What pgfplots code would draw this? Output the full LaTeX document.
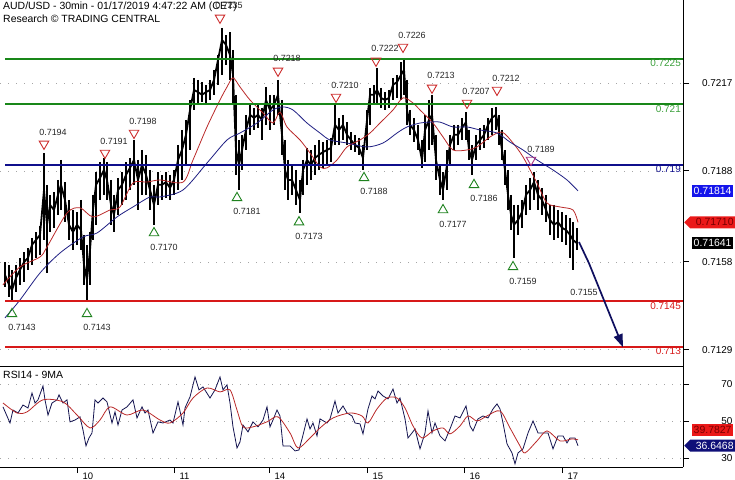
\documentclass[border=0pt]{standalone}
\usepackage{pgfplots}
\pgfplotsset{compat=1.18}
\usepackage{pgfplotstable}
\usepackage{fontspec}
\setmainfont{Liberation Sans}
\usetikzlibrary{shapes.symbols, arrows.meta}

\definecolor{tcgreen}{RGB}{25,135,25}
\definecolor{tcgreenlbl}{RGB}{60,160,60}
\definecolor{tcblue}{RGB}{15,15,140}
\definecolor{tcred}{RGB}{215,25,25}
\definecolor{maRed}{RGB}{185,40,40}
\definecolor{maBlue}{RGB}{30,30,130}
\definecolor{trired}{RGB}{205,45,45}
\definecolor{trigreen}{RGB}{30,130,30}
\definecolor{tripurple}{RGB}{170,50,130}
\definecolor{arrowblue}{RGB}{15,15,95}
\definecolor{rsinavy}{RGB}{20,20,80}
\definecolor{boxblue}{RGB}{20,20,235}
\definecolor{boxred}{RGB}{235,25,25}
\definecolor{boxredtxt}{RGB}{120,0,0}
\definecolor{boxnavy}{RGB}{15,15,120}

\pgfplotstableread{
x lo hi c
5 0.71497 0.71579 0.71537
9 0.71464 0.71570 0.71504
12 0.71447 0.71553 0.71487
16 0.71480 0.71570 0.71527
20 0.71504 0.71593 0.71553
24 0.71513 0.71612 0.71579
28 0.71553 0.71626 0.71593
32 0.71570 0.71659 0.71636
36 0.71593 0.71678 0.71652
40 0.71603 0.71698 0.71669
44 0.71652 0.71939 0.71817
47 0.71543 0.71834 0.71702
50 0.71678 0.71801 0.71768
54 0.71692 0.71810 0.71751
58 0.71735 0.71850 0.71801
61 0.71751 0.71916 0.71834
65 0.71711 0.71843 0.71784
69 0.71652 0.71784 0.71702
73 0.71619 0.71751 0.71678
77 0.71636 0.71744 0.71702
81 0.71619 0.71784 0.71685
84 0.71504 0.71669 0.71570
87 0.71447 0.71636 0.71520
90 0.71504 0.71678 0.71619
93 0.71652 0.71801 0.71751
96 0.71702 0.71876 0.71834
100 0.71784 0.71909 0.71857
104 0.71801 0.71923 0.71883
107 0.71784 0.71909 0.71850
111 0.71702 0.71850 0.71768
114 0.71678 0.71801 0.71735
118 0.71735 0.71857 0.71817
122 0.71768 0.71876 0.71834
126 0.71784 0.71909 0.71867
130 0.71817 0.71923 0.71890
134 0.71834 0.71982 0.71916
138 0.71751 0.71916 0.71850
142 0.71801 0.71949 0.71900
146 0.71801 0.71933 0.71867
150 0.71751 0.71883 0.71817
154 0.71702 0.71834 0.71768
158 0.71768 0.71876 0.71834
162 0.71784 0.71867 0.71834
166 0.71791 0.71876 0.71843
170 0.71784 0.71867 0.71824
174 0.71801 0.71883 0.71850
178 0.71817 0.71966 0.71916
182 0.71850 0.72015 0.71949
186 0.71900 0.72048 0.71999
190 0.71949 0.72114 0.72081
194 0.72081 0.72187 0.72147
198 0.72098 0.72180 0.72140
202 0.72107 0.72173 0.72131
206 0.72098 0.72164 0.72140
210 0.72114 0.72180 0.72147
214 0.72131 0.72213 0.72180
218 0.72164 0.72263 0.72246
222 0.72197 0.72352 0.72312
226 0.72230 0.72329 0.72296
230 0.72180 0.72338 0.72263
233 0.72098 0.72279 0.72197
236 0.71867 0.72131 0.71949
239 0.71817 0.71982 0.71900
242 0.71883 0.71999 0.71949
246 0.71949 0.72065 0.72015
250 0.71999 0.72098 0.72065
254 0.72015 0.72088 0.72055
258 0.72022 0.72098 0.72065
262 0.71982 0.72088 0.72048
266 0.72032 0.72157 0.72114
270 0.72015 0.72131 0.72081
274 0.72032 0.72131 0.72098
278 0.72065 0.72180 0.72131
282 0.71933 0.72114 0.71999
285 0.71817 0.71982 0.71883
288 0.71784 0.71916 0.71850
292 0.71801 0.71900 0.71850
296 0.71768 0.71883 0.71817
300 0.71741 0.71850 0.71784
303 0.71801 0.71916 0.71883
307 0.71834 0.71956 0.71916
311 0.71850 0.71949 0.71900
315 0.71867 0.71966 0.71923
319 0.71883 0.71982 0.71933
323 0.71890 0.71975 0.71942
327 0.71900 0.71982 0.71949
331 0.71909 0.71989 0.71956
335 0.71966 0.72098 0.72032
339 0.71966 0.72055 0.72015
343 0.71982 0.72065 0.72032
347 0.71966 0.72041 0.71999
351 0.71949 0.72008 0.71982
355 0.71942 0.71999 0.71966
359 0.71933 0.71989 0.71956
363 0.71883 0.71966 0.71923
367 0.71949 0.72081 0.72048
370 0.72032 0.72154 0.72131
374 0.72098 0.72164 0.72131
377 0.72098 0.72220 0.72147
381 0.72088 0.72154 0.72121
385 0.72081 0.72140 0.72114
389 0.72088 0.72147 0.72121
393 0.72114 0.72187 0.72164
397 0.72121 0.72197 0.72173
401 0.72114 0.72239 0.72197
404 0.72131 0.72253 0.72213
407 0.72032 0.72180 0.72081
410 0.71999 0.72081 0.72032
414 0.71975 0.72055 0.72015
418 0.71949 0.72032 0.71982
422 0.71890 0.71982 0.71916
425 0.71909 0.72065 0.72015
429 0.71949 0.72114 0.72048
432 0.71966 0.72131 0.72065
436 0.71850 0.71999 0.71916
440 0.71801 0.71900 0.71850
443 0.71784 0.71876 0.71817
447 0.71817 0.71949 0.71900
450 0.71900 0.71999 0.71966
454 0.71949 0.72032 0.71999
458 0.71966 0.72032 0.71999
462 0.71982 0.72055 0.72022
466 0.71982 0.72074 0.72041
469 0.71916 0.72015 0.71949
472 0.71867 0.71966 0.71916
476 0.71916 0.71999 0.71966
480 0.71949 0.72022 0.71982
484 0.71956 0.72032 0.71999
488 0.71982 0.72055 0.72032
492 0.71999 0.72088 0.72055
496 0.72015 0.72091 0.72065
499 0.71966 0.72065 0.72015
502 0.71916 0.72015 0.71949
505 0.71834 0.71949 0.71883
508 0.71751 0.71883 0.71801
511 0.71685 0.71801 0.71735
514 0.71593 0.71768 0.71702
518 0.71669 0.71768 0.71718
522 0.71692 0.71784 0.71744
526 0.71735 0.71834 0.71801
530 0.71751 0.71857 0.71817
534 0.71784 0.71876 0.71843
538 0.71751 0.71850 0.71801
542 0.71735 0.71824 0.71784
546 0.71711 0.71801 0.71751
550 0.71669 0.71768 0.71718
554 0.71652 0.71768 0.71702
558 0.71659 0.71751 0.71711
562 0.71645 0.71744 0.71692
566 0.71636 0.71735 0.71685
570 0.71593 0.71725 0.71669
573 0.71553 0.71711 0.71652
577 0.71619 0.71692 0.71641
}\pricetab

\pgfplotstableread{
x m
3 0.71504
20 0.71563
40 0.71596
47 0.71629
67 0.71741
80 0.71758
93 0.71728
110 0.71751
120 0.71761
133 0.71840
147 0.71843
160 0.71850
183 0.71843
193 0.71916
207 0.72025
220 0.72114
227 0.72157
233 0.72187
240 0.72157
250 0.72114
263 0.72071
273 0.72038
280 0.72074
287 0.72025
300 0.71982
310 0.71939
320 0.71893
327 0.71890
337 0.71916
347 0.71959
360 0.71982
370 0.72005
380 0.72038
393 0.72081
403 0.72121
413 0.72104
420 0.72081
433 0.72038
443 0.71992
453 0.71949
467 0.71949
477 0.71959
490 0.71992
502 0.72008
513 0.71972
523 0.71926
537 0.71840
547 0.71774
560 0.71761
573 0.71751
578 0.71710
}\maredtab

\pgfplotstableread{
x m
5 0.71395
20 0.71454
40 0.71543
60 0.71609
83 0.71662
97 0.71675
117 0.71728
133 0.71761
150 0.71794
160 0.71794
183 0.71817
207 0.71906
227 0.71982
240 0.72005
257 0.72038
273 0.72081
283 0.72091
293 0.72081
307 0.72038
320 0.72005
330 0.71982
347 0.71972
367 0.71959
383 0.71972
397 0.72005
407 0.72025
420 0.72038
430 0.72041
440 0.72041
453 0.72025
467 0.72025
480 0.72015
497 0.72005
510 0.71975
523 0.71949
537 0.71916
553 0.71883
567 0.71850
578 0.71814
}\mabluetab

\pgfplotstableread{
x r
3 57.6
10 48.9
13 55.9
18 54.3
23 58.6
28 57.0
32 65.1
35 59.7
38 61.4
43 68.9
45 61.4
48 53.2
52 59.7
57 61.4
59 64.1
63 59.7
67 61.4
70 49.5
75 50.5
80 52.2
83 45.1
86 36.5
89 40.8
92 43.5
95 61.4
98 59.7
103 62.4
107 60.3
112 48.9
115 54.9
118 47.8
122 55.9
127 57.6
133 61.4
137 51.6
142 57.6
145 54.3
148 55.9
153 43.5
158 49.5
163 48.9
170 50.5
173 48.9
178 60.3
183 47.8
185 57.0
190 63.0
195 73.8
199 66.8
203 68.4
210 62.4
215 66.8
220 73.8
223 66.8
227 69.5
230 59.7
233 46.8
237 35.4
240 38.7
243 47.8
248 44.1
253 49.5
258 46.8
263 50.5
267 57.6
270 46.8
273 50.5
277 55.9
280 52.7
283 36.5
290 36.5
295 33.8
299 34.3
302 40.3
307 51.1
310 45.7
313 48.9
317 41.9
320 51.1
327 48.9
330 51.1
335 60.8
338 54.3
343 58.1
347 54.3
352 52.7
355 48.9
360 48.4
363 43.0
368 56.5
372 63.5
375 61.9
378 66.2
383 63.5
388 61.9
393 67.3
397 59.7
400 62.4
405 51.1
408 40.8
412 43.5
415 45.7
420 34.9
425 43.5
428 55.4
432 43.5
435 48.9
440 41.9
445 39.2
450 45.7
455 52.7
460 51.6
466 58.1
470 47.3
473 44.6
478 51.1
483 52.7
488 51.6
493 56.5
497 59.2
500 56.5
503 48.9
507 37.6
512 32.7
515 26.8
518 32.7
523 34.9
528 43.5
533 50.0
538 43.5
543 43.5
548 43.5
553 34.9
558 41.9
563 41.9
567 38.1
570 40.8
575 40.8
578 36.6
}\rsitab

\pgfplotstableread{
x m
3 59.7
17 54.3
27 54.9
43 61.4
63 60.3
77 53.2
90 46.2
100 50.5
110 57.6
127 53.2
143 55.9
160 50.5
170 48.9
183 54.3
193 62.4
207 67.8
220 65.7
230 66.8
237 55.9
243 46.8
253 46.8
267 49.5
278 52.2
290 43.5
298 35.4
310 40.8
320 46.2
333 51.6
350 54.3
362 52.7
368 48.9
377 56.5
387 62.4
397 62.4
405 57.0
413 47.3
422 40.8
433 44.6
443 46.2
450 43.0
460 47.3
468 52.7
477 50.0
487 52.7
500 55.4
510 46.2
520 36.5
525 32.7
537 39.2
547 44.6
560 39.2
572 40.3
578 39.8
}\rsimatab

\begin{document}
\begin{tikzpicture}[x=1bp,y=1bp]
\useasboundingbox (0bp,0bp) rectangle (735bp,-480bp);
\pgfplotsset{
  every axis/.append style={font=\fontsize{10}{12}\selectfont},
  /pgf/number format/assume math mode=true,
}
% ---------------- main price panel ----------------
\begin{axis}[
  at={(0bp,0bp)}, anchor=north west, scale only axis,
  width=683bp, height=366bp,
  xmin=0, xmax=683, ymin=0.71236, ymax=0.72444,
  axis x line*=bottom, axis y line*=right,
  axis line style={black, line width=0.9bp},
  xtick=\empty,
  ytick={0.7129,0.7158,0.7188,0.7217},
  yticklabels={0.7129,0.7158,0.7188,0.7217},
  ymajorgrids, grid style={gray!70, dash pattern=on 1bp off 7bp},
  tick align=outside, major tick length=6bp,
  tick style={black, line width=0.8bp},
  yticklabel style={font=\fontsize{10}{12}\selectfont, anchor=east, xshift=47bp},
  clip=false,
]
% bars (low-high)
\addplot[draw=none, mark=none, forget plot,
  error bars/.cd, y dir=minus, y explicit, error mark=none,
  error bar style={draw=black, line width=2.8bp}]
  table[x=x, y=hi, y error expr=\thisrow{hi}-\thisrow{lo}] {\pricetab};
\addplot[black, line width=1.8bp] table[x=x, y=c] {\pricetab};
% moving averages
\addplot[maRed, line width=0.8bp, smooth] table[x=x, y=m] {\maredtab};
\addplot[maBlue, line width=0.8bp, smooth] table[x=x, y=m] {\mabluetab};
% levels
\addplot[tcgreen, line width=1.8bp] coordinates {(5,0.7225) (683,0.7225)};
\addplot[tcgreen, line width=1.8bp] coordinates {(5,0.7210) (683,0.7210)};
\addplot[tcblue, line width=1.8bp] coordinates {(5,0.7190) (683,0.7190)};
\addplot[tcred, line width=1.8bp] coordinates {(5,0.7145) (683,0.7145)};
\addplot[tcred, line width=1.8bp] coordinates {(5,0.7130) (683,0.7130)};
\node[anchor=north east, text=tcgreenlbl, inner sep=1bp] at (axis cs:682,0.7225) {0.7225};
\node[anchor=north east, text=tcgreenlbl, inner sep=1bp] at (axis cs:682,0.7210) {0.721};
\node[anchor=north east, text=tcblue, inner sep=1bp] at (axis cs:682,0.7190) {0.719};
\node[anchor=north east, text=tcred, inner sep=1bp] at (axis cs:682,0.7145) {0.7145};
\node[anchor=north east, text=tcred, inner sep=1bp] at (axis cs:682,0.7130) {0.713};
% projection
\addplot[arrowblue, line width=1.7bp, -{Triangle[length=13bp, width=9bp]}]
  coordinates {(579,0.71645) (589,0.71575) (623,0.71298)};
\node[text=black!85, font=\fontsize{9}{11}\selectfont] at (axis cs:584,0.71480) {0.7155};
% highs
\addplot[only marks, mark=triangle, mark size=5.5bp,
  mark options={rotate=180, draw=trired, line width=0.9bp},
  point meta=explicit symbolic, nodes near coords,
  nodes near coords style={anchor=center, xshift=9bp, yshift=12bp, text=black!85, font=\fontsize{9}{11}\selectfont}]
  coordinates {
  (44,0.71969) [0.7194]
  (105,0.71939) [0.7191]
  (134,0.72005) [0.7198]
  (220,0.72385) [0.7235]
  (278,0.72210) [0.7218]
  (336,0.72124) [0.7210]
  (376,0.72243) [0.7222]
  (403,0.72289) [0.7226]
  (432,0.72154) [0.7213]
  (467,0.72104) [0.7207]
  (497,0.72147) [0.7212]
  };
\addplot[only marks, mark=triangle, mark size=5.5bp,
  mark options={rotate=180, draw=tripurple, line width=0.9bp},
  point meta=explicit symbolic, nodes near coords,
  nodes near coords style={anchor=center, xshift=10bp, yshift=11bp, text=black!85, font=\fontsize{9}{11}\selectfont}]
  coordinates {(531,0.71916) [0.7189]};
% lows
\addplot[only marks, mark=triangle, mark size=5.5bp,
  mark options={draw=trigreen, line width=0.9bp},
  point meta=explicit symbolic, nodes near coords,
  nodes near coords style={anchor=center, xshift=10bp, yshift=-14bp, text=black!85, font=\fontsize{9}{11}\selectfont}]
  coordinates {
  (12,0.71408) [0.7143]
  (87,0.71408) [0.7143]
  (154,0.71675) [0.7170]
  (237,0.71791) [0.7181]
  (299,0.71711) [0.7173]
  (364,0.71857) [0.7188]
  (443,0.71751) [0.7177]
  (474,0.71834) [0.7186]
  (513,0.71563) [0.7159]
  };
% header
\node[anchor=north west, inner sep=0pt, align=left, font=\fontsize{10.5}{12.5}\selectfont]
  at (rel axis cs:0,1) [xshift=3bp, yshift=-2bp]
  {AUD/USD - 30min - 01/17/2019 4:47:22 AM (CET)\\Research © TRADING CENTRAL};
% right value boxes
\node[anchor=west, fill=boxblue, text=white, inner sep=1.5bp, minimum height=12bp, font=\fontsize{10.5}{12}\selectfont]
  at (axis cs:683,0.71814) [xshift=9bp] {0.71814};
\node[shape=signal, signal to=west, signal pointer angle=90, anchor=west, fill=boxred, text=boxredtxt, inner sep=1.5bp, minimum height=12bp, font=\fontsize{10.5}{12}\selectfont]
  at (axis cs:683,0.71710) [xshift=1bp] {\hspace{4bp}0.71710};
\node[anchor=west, fill=black, text=white, inner sep=1.5bp, minimum height=12bp, font=\fontsize{10.5}{12}\selectfont]
  at (axis cs:683,0.71641) [xshift=9bp] {0.71641};
\end{axis}
% ---------------- RSI panel ----------------
\begin{axis}[
  at={(0bp,-366bp)}, anchor=north west, scale only axis,
  width=683bp, height=101bp,
  xmin=0, xmax=683, ymin=25.1, ymax=79.7,
  axis x line*=bottom, axis y line*=right,
  axis line style={black, line width=0.9bp},
  xtick={77,174,269,367,464,562},
  xticklabels={10,11,14,15,16,17},
  xticklabel style={anchor=north west, xshift=2bp, yshift=4bp, font=\fontsize{9.5}{11}\selectfont},
  ytick={30,50,70},
  ymajorgrids, grid style={gray!70, dash pattern=on 1bp off 7bp},
  tick align=outside, major tick length=6bp,
  tick style={black, line width=0.8bp},
  yticklabel style={font=\fontsize{10}{12}\selectfont, anchor=east, xshift=47bp},
  clip=false,
]
\addplot[rsinavy, line width=0.8bp] table[x=x, y=r] {\rsitab};
\addplot[maRed, line width=0.8bp, smooth] table[x=x, y=m] {\rsimatab};
\node[anchor=north west, inner sep=0pt, font=\fontsize{10.5}{12.5}\selectfont]
  at (rel axis cs:0,1) [xshift=3bp, yshift=-5bp] {RSI14 - 9MA};
\node[anchor=west, fill=boxred, text=boxredtxt, inner sep=1.5bp, minimum height=12bp, font=\fontsize{10.5}{12}\selectfont]
  at (axis cs:683,45.1) [xshift=9bp] {39.7827};
\node[shape=signal, signal to=west, signal pointer angle=90, anchor=west, fill=boxnavy, text=white, inner sep=1.5bp, minimum height=12bp, font=\fontsize{10.5}{12}\selectfont]
  at (axis cs:683,36.65) [xshift=1bp] {\hspace{4bp}36.6468};
\end{axis}
\end{tikzpicture}
\end{document}
